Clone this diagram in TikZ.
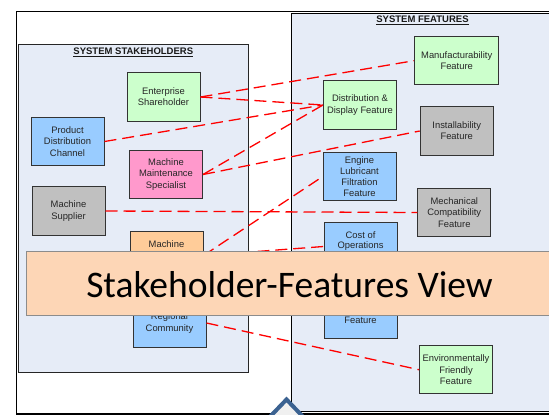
\documentclass[tikz,border=0pt]{standalone}
\usepackage{fontspec}
\setmainfont{Liberation Sans}
\newfontfamily\bannerfont{Carlito}
\definecolor{panelfill}{HTML}{E6ECF7}
\definecolor{cgreen}{HTML}{CCFFCC}
\definecolor{cblue}{HTML}{99CCFF}
\definecolor{cpink}{HTML}{FF99CC}
\definecolor{cgray}{HTML}{C0C0C0}
\definecolor{corange}{HTML}{FFCC99}
\definecolor{bannerfill}{HTML}{FDD6B6}
\definecolor{chev}{HTML}{3B6291}
\tikzset{
  x=1pt,y=-1pt,
  sbox/.style={draw=black!80,line width=1pt,minimum width=73pt,minimum height=48.5pt,inner sep=0pt,align=center,font=\fontsize{9.4}{11.2}\selectfont,text=black!85},
  slabel/.style={font=\fontsize{9.4}{11.2}\selectfont,text=black!85,inner sep=0pt},
  link/.style={draw=red,line width=1.3pt,dash pattern=on 12pt off 6pt},
  paneltitle/.style={font=\bfseries\fontsize{9.5}{10}\selectfont,inner sep=0pt,text=black!90},
}
\begin{document}
\begin{tikzpicture}
\useasboundingbox (0,0) rectangle (549,415);
\clip (0,0) rectangle (549,415);
\fill[white] (0,0) rectangle (549,415);
% frame
\draw[black,line width=1.9pt] (16.5,11.5) rectangle (600,413.7);
% panels
\draw[black!85,fill=panelfill,line width=1pt] (18,44.5) rectangle (248.5,372);
\draw[black,fill=panelfill,line width=1pt] (291.5,13) rectangle (600,411);
\node[paneltitle] (t1) at (133.3,52.5) {\underline{SYSTEM STAKEHOLDERS}};
\node[paneltitle] (t2) at (422.5,20.5) {\underline{SYSTEM FEATURES}};
% stakeholders
\node[sbox,fill=cgreen] (es) at (163.5,97) {Enterprise\\Shareholder};
\node[sbox,fill=cblue] (pd) at (67.5,141.5) {Product\\Distribution\\Channel};
\node[sbox,fill=cpink] (mm) at (166,174.5) {Machine\\Maintenance\\Specialist};
\node[sbox,fill=cgray] (ms) at (68.5,211) {Machine\\Supplier};
\node[sbox,fill=corange,minimum height=49pt] (mo) at (166.5,255.5) {};
\node[slabel] (mot) at (166.5,244) {Machine};
\node[sbox,fill=cblue] (rc) at (169.5,323) {Regional\\Community};
% features
\node[sbox,fill=cgreen] (dd) at (360,105) {Distribution \&\\Display Feature};
\node[sbox,fill=cgreen,minimum width=84.5pt] (mf) at (456.7,60.7) {Manufacturability\\Feature};
\node[sbox,fill=cgray] (inst) at (456.7,131) {Installability\\Feature};
\node[sbox,fill=cblue] (el) at (359.5,176.7) {Engine\\Lubricant\\Filtration\\Feature};
\node[sbox,fill=cgray] (mc) at (454.3,212.5) {Mechanical\\Compatibility\\Feature};
\node[sbox,fill=cblue] (co) at (360.5,246.5) {};
\node[slabel] (cot) at (360.5,235) {Cost of};
\node[slabel] (cot2) at (360.5,246.5) {Operations};
\node[sbox,fill=cblue] (hf) at (360.5,314) {};
\node[slabel] (hft) at (360.5,320) {Feature};
\node[sbox,fill=cgreen] (ef) at (456,369.7) {Environmentally\\Friendly\\Feature};
% links
\draw[link] (es.east) -- (mf.west);
\draw[link] (es.east) -- (dd.west);
\draw[link] (pd.east) -- (dd.west);
\draw[link] (mm.east) -- (dd.west);
\draw[link] (mm.east) -- (inst.west);
\draw[link] (ms.east) -- (mc.west);
\draw[link] (mo.east) -- (el.west);
\draw[link] (mo.east) -- (co.west);
\draw[link] (rc.east) -- (ef.west);
% banner
\node[draw=black!45,fill=bannerfill,line width=1.6pt,minimum width=540pt,minimum height=64pt,inner sep=0pt,anchor=west] (banner) at (25.5,283.5) {};
\node[font=\bannerfont\fontsize{37.5}{40}\selectfont,text=black,inner sep=0pt] (bt) at (289.5,284.5) {Stakeholder-Features View};
% chevron
\draw[chev,fill=black!6,line width=4pt,miter limit=10] (262,425) -- (286.5,399.5) -- (311,425);
\end{tikzpicture}
\end{document}
